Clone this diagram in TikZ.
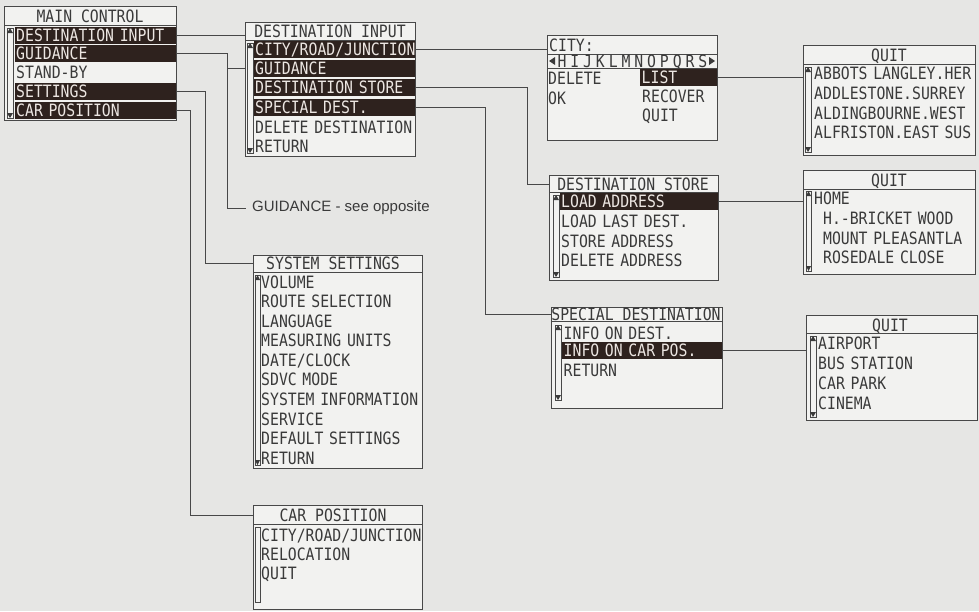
\documentclass[tikz,border=0pt]{standalone}
\usepackage{fontspec}
\newfontfamily\lcdfont[FakeStretch=0.87]{DejaVu Sans Mono}
\newfontfamily\notefont{Liberation Sans}
\newcommand{\lcdtxt}{\lcdfont\fontsize{17pt}{17pt}\selectfont}
\definecolor{pagebg}{HTML}{E6E6E4}
\definecolor{boxbg}{HTML}{F2F2F0}
\definecolor{linegray}{HTML}{484848}
\definecolor{txtgray}{HTML}{3A3A3A}
\definecolor{hlbrown}{HTML}{2E221E}
\definecolor{hltext}{HTML}{ECE6E2}
\tikzset{
  menubox/.style={draw=linegray, fill=boxbg, line width=0.9pt, anchor=north west, inner sep=0pt},
  ttl/.style={font=\lcdtxt, text=txtgray, inner sep=0pt, text height=12.4pt, text depth=0pt},
  row/.style={anchor=west, font=\lcdtxt, text=txtgray, inner xsep=1.5pt, inner ysep=0pt,
    minimum height=17pt, text height=12.4pt, text depth=0pt, text width=#1, align=left},
  row/.default=158.5pt,
  hl/.style={fill=hlbrown, text=hltext},
  sepline/.style={draw=linegray, line width=0.6pt},
  scroll/.style={draw=linegray, line width=0.7pt},
  link/.style={draw=linegray, line width=0.9pt},
}
\begin{document}
\begin{tikzpicture}[x=1pt,y=-1pt]
\useasboundingbox (0,0) rectangle (979,611);
\fill[pagebg] (0,0) rectangle (979,611);

% main control
\node[menubox, minimum width=172pt, minimum height=114pt] (mcBox) at (4,6) {};
\node[ttl] (mcTitle) at (90,16) {MAIN CONTROL};
\draw[sepline] (4,25) -- (176,25);
\draw[scroll] (7,28) rectangle (13,118);
\fill[txtgray] (7,33) -- (10,28) -- (13,33) -- cycle;
\fill[txtgray] (7,113) -- (10,118) -- (13,113) -- cycle;
\node[row, hl] (mcDest) at (14.5,35) {DESTINATION INPUT};
\node[row, hl] (mcGuid) at (14.5,53.7) {GUIDANCE};
\node[row] (mcStby) at (14.5,72.5) {STAND-BY};
\node[row, hl] (mcSet) at (14.5,91.3) {SETTINGS};
\node[row, hl] (mcCar) at (14.5,110) {CAR POSITION};

% destination input
\node[menubox, minimum width=170pt, minimum height=134pt] (diBox) at (245,22) {};
\node[ttl] (diTitle) at (330,31) {DESTINATION INPUT};
\draw[sepline] (245,40) -- (415,40);
\draw[scroll] (247,43) rectangle (253,153);
\fill[txtgray] (247,48) -- (250,43) -- (253,48) -- cycle;
\fill[txtgray] (247,148) -- (250,153) -- (253,148) -- cycle;
\node[row, hl] (diCity) at (253.5,49) {CITY/ROAD/JUNCTION};
\node[row, hl] (diGuid) at (253.5,68) {GUIDANCE};
\node[row, hl] (diStore) at (253.5,87.5) {DESTINATION STORE};
\node[row, hl] (diSpec) at (253.5,107) {SPECIAL DEST.};
\node[row] (diDel) at (253.5,127) {DELETE DESTINATION};
\node[row] (diRet) at (253.5,146.5) {RETURN};

% city entry
\node[menubox, minimum width=170pt, minimum height=105pt] (cityBox) at (547,35) {};
\node[ttl, anchor=west] (cityTitle) at (549,45) {CITY:};
\draw[sepline] (547,54) rectangle (717,68);
\fill[txtgray] (549,61) -- (555,57) -- (555,65) -- cycle;
\fill[txtgray] (715,61) -- (709,57) -- (709,65) -- cycle;
\foreach \l [count=\k from 0] in {H,I,J,K,L,M,N,O,P,Q,R,S}
  \node[ttl] (ltr\k) at (562+12.8*\k,61.5) {\l};
\node[ttl, anchor=west] (cityDel) at (548,78) {DELETE};
\node[ttl, anchor=west] (cityOk) at (548,98) {OK};
\node[row=74pt, hl] (cityList) at (640,77) {LIST};
\node[ttl, anchor=west] (cityRec) at (642,96.5) {RECOVER};
\node[ttl, anchor=west] (cityQuit) at (642,115) {QUIT};

% list of places
\node[menubox, minimum width=172pt, minimum height=110pt] (qaBox) at (803,45) {};
\node[ttl] (qaTitle) at (889,55) {QUIT};
\draw[sepline] (803,64) -- (975,64);
\draw[scroll] (805,67) rectangle (811,152);
\fill[txtgray] (805,72) -- (808,67) -- (811,72) -- cycle;
\fill[txtgray] (805,147) -- (808,152) -- (811,147) -- cycle;
\node[row=159.5pt] (qa1) at (812.5,73.5) {ABBOTS LANGLEY.HER};
\node[row=159.5pt] (qa2) at (812.5,93) {ADDLESTONE.SURREY};
\node[row=159.5pt] (qa3) at (812.5,113) {ALDINGBOURNE.WEST};
\node[row=159.5pt] (qa4) at (812.5,132.5) {ALFRISTON.EAST SUS};

% destination store
\node[menubox, minimum width=169pt, minimum height=105pt] (dsBox) at (549,175) {};
\node[ttl] (dsTitle) at (633,184) {DESTINATION STORE};
\draw[sepline] (549,192) -- (718,192);
\draw[scroll] (553,195) rectangle (559,277);
\fill[txtgray] (553,200) -- (556,195) -- (559,200) -- cycle;
\fill[txtgray] (553,272) -- (556,277) -- (559,272) -- cycle;
\node[row=155.5pt, hl] (dsLoad) at (559.5,201.5) {LOAD ADDRESS};
\node[row=155.5pt] (dsLast) at (559.5,221) {LOAD LAST DEST.};
\node[row=155.5pt] (dsStore) at (559.5,241) {STORE ADDRESS};
\node[row=155.5pt] (dsDel) at (559.5,260) {DELETE ADDRESS};

% stored addresses
\node[menubox, minimum width=172pt, minimum height=104pt] (qbBox) at (803,170) {};
\node[ttl] (qbTitle) at (889,180) {QUIT};
\draw[sepline] (803,189) -- (975,189);
\draw[scroll] (806,191) rectangle (811,271);
\fill[txtgray] (806,196) -- (808.5,191) -- (811,196) -- cycle;
\fill[txtgray] (806,266) -- (808.5,271) -- (811,266) -- cycle;
\node[row=159.5pt] (qb1) at (812.5,198.5) {HOME};
\node[row=159.5pt] (qb2) at (812.5,218) {\hphantom{H}H.-BRICKET WOOD};
\node[row=159.5pt] (qb3) at (812.5,238) {\hphantom{H}MOUNT PLEASANTLA};
\node[row=159.5pt] (qb4) at (812.5,257) {\hphantom{H}ROSEDALE CLOSE};

% special destination
\node[menubox, minimum width=171pt, minimum height=101pt] (sdBox) at (551,307) {};
\node[ttl] (sdTitle) at (636,314) {SPECIAL DESTINATION};
\draw[sepline] (551,321) -- (722,321);
\draw[scroll] (555,325) rectangle (561,400);
\fill[txtgray] (555,330) -- (558,325) -- (561,330) -- cycle;
\fill[txtgray] (555,395) -- (558,400) -- (561,395) -- cycle;
\node[row=157pt] (sdInfo) at (562,333) {INFO ON DEST.};
\node[row=157pt, hl] (sdCar) at (562,350.5) {INFO ON CAR POS.};
\node[row=157pt] (sdRet) at (562,370) {RETURN};

% places
\node[menubox, minimum width=171pt, minimum height=105pt] (qcBox) at (806,315) {};
\node[ttl] (qcTitle) at (890,325) {QUIT};
\draw[sepline] (806,333) -- (977,333);
\draw[scroll] (810,336) rectangle (816,417);
\fill[txtgray] (810,341) -- (813,336) -- (816,341) -- cycle;
\fill[txtgray] (810,412) -- (813,417) -- (816,412) -- cycle;
\node[row=157.5pt] (qc1) at (816.5,343.5) {AIRPORT};
\node[row=157.5pt] (qc2) at (816.5,363) {BUS STATION};
\node[row=157.5pt] (qc3) at (816.5,383) {CAR PARK};
\node[row=157.5pt] (qc4) at (816.5,403) {CINEMA};

% system settings
\node[menubox, minimum width=169pt, minimum height=213pt] (ssBox) at (253,255) {};
\node[ttl] (ssTitle) at (333,263) {SYSTEM SETTINGS};
\draw[sepline] (253,272) -- (422,272);
\draw[scroll] (255,275) rectangle (260,465);
\fill[txtgray] (255,280) -- (257.5,275) -- (260,280) -- cycle;
\fill[txtgray] (255,460) -- (257.5,465) -- (260,460) -- cycle;
\foreach \item [count=\k from 0] in {VOLUME,ROUTE SELECTION,LANGUAGE,MEASURING UNITS,
    DATE/CLOCK,SDVC MODE,SYSTEM INFORMATION,SERVICE,DEFAULT SETTINGS,RETURN}
  \node[row=159.5pt] (ss\k) at (259.5,282+19.55*\k) {\item};

% car position
\node[menubox, minimum width=169pt, minimum height=104pt] (cpBox) at (253,505) {};
\node[ttl] (cpTitle) at (333,515) {CAR POSITION};
\draw[sepline] (253,524) -- (422,524);
\draw[scroll] (255,527) rectangle (260,602);
\node[row=159.5pt] (cp1) at (259.5,535) {CITY/ROAD/JUNCTION};
\node[row=159.5pt] (cp2) at (259.5,554) {RELOCATION};
\node[row=159.5pt] (cp3) at (259.5,573) {QUIT};

% note
\node[anchor=west, inner sep=0pt, text=txtgray, font=\notefont\fontsize{15pt}{15pt}\selectfont] (guideNote) at (252,208) {GUIDANCE - see opposite};
\coordinate (guideTurn) at (227,208);

% connectors
\draw[link] (mcDest.east) -- (diBox.west |- mcDest.east);
\draw[link] (mcGuid.east) -| (guideTurn) -- ([xshift=-6pt]guideNote.west);
\draw[link] (diBox.west |- diGuid.west) -- (guideTurn |- diGuid.west);
\draw[link] (mcSet.east) -- ++(29,0) |- (ssBox.west |- ssTitle.center);
\draw[link] (mcCar.east) -- ++(14,0) |- (cpBox.west |- cpTitle.center);
\draw[link] (diCity.east) -- (cityBox.west |- diCity.east);
\draw[link] (diStore.east) -- ++(112,0) |- (dsBox.west |- dsTitle.center);
\draw[link] (diSpec.east) -- ++(70,0) |- (sdBox.west |- sdTitle.center);
\draw[link] (cityList.east) -- (qaBox.west |- cityList.east);
\draw[link] (dsLoad.east) -- (qbBox.west |- dsLoad.east);
\draw[link] (sdCar.east) -- (qcBox.west |- sdCar.east);
\end{tikzpicture}
\end{document}
